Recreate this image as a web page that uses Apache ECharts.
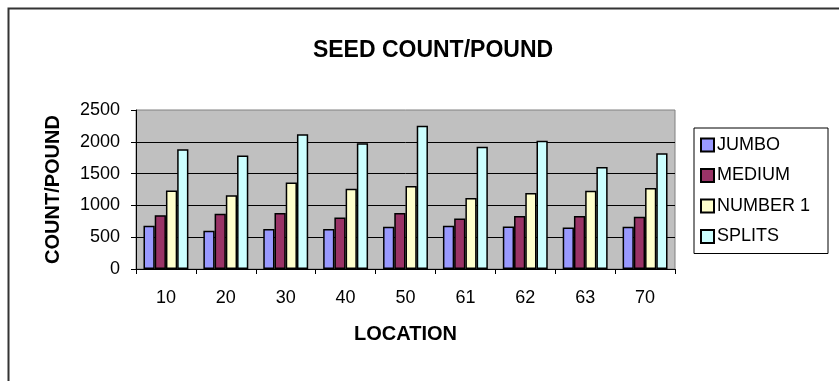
<!DOCTYPE html>
<html>
<head>
<meta charset="utf-8">
<script src="https://cdn.jsdelivr.net/npm/echarts@6/dist/echarts.min.js"></script>
<style>html,body{margin:0;padding:0;background:#fff}#c{width:839px;height:381px}</style>
</head>
<body>
<div id="c"></div>
<script>
var categories = ['10', '20', '30', '40', '50', '61', '62', '63', '70'];
var jumbo   = [680, 601, 628, 628, 664, 679, 668, 653, 663];
var medium  = [847, 868, 879, 811, 879, 795, 832, 832, 821];
var number1 = [1234, 1161, 1360, 1260, 1305, 1116, 1195, 1232, 1274];
var splits  = [1883, 1783, 2118, 1977, 2253, 1921, 2016, 1605, 1821];
var seriesNames = ['JUMBO', 'MEDIUM', 'NUMBER 1', 'SPLITS'];
var seriesColors = ['#9999FF', '#993366', '#FFFFCC', '#CCFFFF'];
var seriesData = [jumbo, medium, number1, splits];

var FONT = "'Liberation Sans', Arial, sans-serif";
var chart = echarts.init(document.getElementById('c'), null, {renderer: 'canvas'});

var series = seriesNames.map(function (n, i) {
  return {
    name: n,
    type: 'bar',
    data: seriesData[i],
    barGap: '0%',
    barCategoryGap: '25%',
    itemStyle: {color: seriesColors[i], borderColor: '#000', borderWidth: 1.5},
    emphasis: {disabled: true}
  };
});

chart.setOption({
  animation: false,
  backgroundColor: '#fff',
  textStyle: {fontFamily: FONT},
  title: {
    text: 'SEED COUNT/POUND',
    left: 428, top: 34, textAlign: 'center',
    textStyle: {fontFamily: FONT, fontSize: 23, fontWeight: 'bold', color: '#000'}
  },
  graphic: [{
    type: 'rect', left: 6, top: 6, silent: true,
    shape: {x: 0, y: 0, width: 850, height: 400},
    style: {fill: 'none', stroke: '#333', lineWidth: 2}
  }],
  legend: {
    orient: 'vertical', left: 694, top: 128,
    padding: [8, 18, 8, 6],
    icon: 'rect',
    itemWidth: 13, itemHeight: 13, itemGap: 12.5,
    borderColor: '#000', borderWidth: 1,
    textStyle: {fontFamily: FONT, fontSize: 18, color: '#000', padding: [0, 0, 0, -2]},
    data: seriesNames
  },
  grid: {
    left: 136, right: 164, top: 110, bottom: 112,
    show: true, backgroundColor: '#C0C0C0', borderColor: '#808080', borderWidth: 1
  },
  xAxis: {
    type: 'category', data: categories,
    name: 'LOCATION', nameLocation: 'middle', nameGap: 55,
    nameTextStyle: {fontFamily: FONT, fontSize: 20, fontWeight: 'bold', color: '#000'},
    axisLine: {lineStyle: {color: '#000', width: 1}},
    axisTick: {show: true, alignWithLabel: false, length: 5, lineStyle: {color: '#000'}},
    axisLabel: {fontFamily: FONT, fontSize: 18, color: '#000', margin: 20}
  },
  yAxis: {
    type: 'value', min: 0, max: 2500, interval: 500,
    name: 'COUNT/POUND', nameLocation: 'middle', nameGap: 73,
    nameTextStyle: {fontFamily: FONT, fontSize: 20, fontWeight: 'bold', color: '#000'},
    axisLine: {show: true, lineStyle: {color: '#000', width: 1}},
    axisTick: {show: true, length: 5, lineStyle: {color: '#000'}},
    axisLabel: {fontFamily: FONT, fontSize: 18, color: '#000', margin: 16,
      formatter: function (v) { return String(v); }},
    splitLine: {show: true, showMaxLine: false, lineStyle: {color: '#000', width: 1}}
  },
  series: series
});
</script>
</body>
</html>
